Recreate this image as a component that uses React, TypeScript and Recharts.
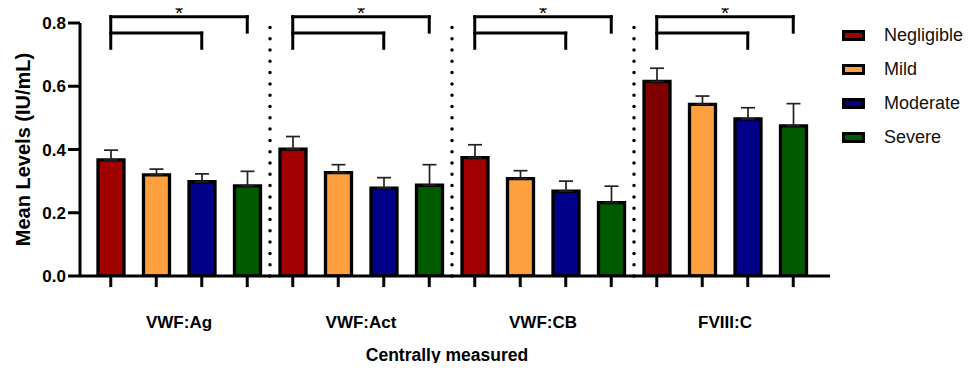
import React from 'react'
import { BarChart, Bar, XAxis, YAxis, ErrorBar, Cell, Legend, ReferenceLine, ReferenceDot } from 'recharts'

const assays = ['VWF:Ag', 'VWF:Act', 'VWF:CB', 'FVIII:C']
const severities = ['Negligible', 'Mild', 'Moderate', 'Severe']

// mean levels (IU/mL) per assay
const negligibleMean = [0.367, 0.401, 0.374, 0.615]
const mildMean = [0.32, 0.327, 0.308, 0.543]
const moderateMean = [0.298, 0.278, 0.268, 0.497]
const severeMean = [0.285, 0.287, 0.232, 0.475]

// upper error (SEM)
const negligibleErr = [0.031, 0.04, 0.041, 0.042]
const mildErr = [0.018, 0.025, 0.025, 0.026]
const moderateErr = [0.025, 0.033, 0.032, 0.035]
const severeErr = [0.046, 0.065, 0.052, 0.07]

const yTicks = [0, 0.2, 0.4, 0.6, 0.8]

// significance brackets: Negligible vs Moderate, Negligible vs Severe (each assay)
const sigPairs = [[0, 2], [0, 3]]
const sigLevels = [0.768, 0.82]
const sigDrop = 0.771
const sigFoot = 0.72
const sigLabel = '*'

const fills: Record<string, string> = {
  Negligible: '#a00000',
  Mild: '#ffa040',
  Moderate: '#000088',
  Severe: '#005a00',
}
const negligibleFills = ['#a00000', '#a00000', '#a00000', '#800000']

const font = "'Liberation Sans', Arial, sans-serif"

const means = [negligibleMean, mildMean, moderateMean, severeMean]
const errs = [negligibleErr, mildErr, moderateErr, severeErr]

const data = assays.map((name, i) => {
  const row: any = { name, span: [i * 4, i * 4 + 4] }
  severities.forEach((s, k) => {
    row[s] = means[k][i]
    row[s + 'Err'] = [0, errs[k][i]]
  })
  return row
})

// slot position on the hidden numeric axis (one unit per bar)
const slot = (g: number, b: number) => g * 4 + b + 0.5

const YTitle = (props: any) => {
  const vb = props.viewBox || { x: 0, y: 23, width: 80, height: 253 }
  const cx = vb.x + 23
  const cy = vb.y + vb.height / 2
  return (
    <text x={cx} y={cy} transform={`rotate(-90 ${cx} ${cy})`} textAnchor="middle" dominantBaseline="central"
      fontFamily={font} fontSize={20} fontWeight={700} fill="#000">
      Mean Levels (IU/mL)
    </text>
  )
}

const XTitle = (props: any) => {
  const vb = props.viewBox || { x: 80, y: 276, width: 750, height: 95 }
  return (
    <text x={447} y={vb.y + 79} textAnchor="middle" dominantBaseline="central"
      fontFamily={font} fontSize={17.5} fontWeight={700} fill="#000">
      Centrally measured
    </text>
  )
}

const LegendBox = (props: any) => {
  const payload = [...(props.payload || [])].sort(
    (a: any, b: any) => severities.indexOf(a.value) - severities.indexOf(b.value)
  )
  return (
    <div style={{ fontFamily: font, fontSize: 18, color: '#111', whiteSpace: 'nowrap' }}>
      {payload.map((p: any) => (
        <div key={p.value} style={{ display: 'flex', alignItems: 'center', height: 34 }}>
          <span style={{ display: 'inline-block', width: 17, height: 5, border: '3px solid #000', background: fills[p.value] || p.color, marginRight: 19 }} />
          <span>{p.value}</span>
        </div>
      ))}
    </div>
  )
}

const line = { stroke: '#000', strokeWidth: 3, ifOverflow: 'visible' as const, xAxisId: 'num' }

export default function App() {
  return (
    <div style={{ margin: -8, width: 971, height: 371 }}>
      <BarChart width={971} height={371} data={data} barGap={19.5}
        margin={{ top: 23, right: 141, left: 0, bottom: 0 }}>
        <XAxis dataKey="name" height={95} padding={{ left: 8, right: 14 }}
          axisLine={{ stroke: '#000', strokeWidth: 3 }} tickLine={false} tickMargin={34}
          tick={{ fill: '#000', fontSize: 17, fontWeight: 700, fontFamily: font }}
          label={XTitle} />
        <XAxis xAxisId="num" dataKey="span" type="number" domain={[0, 16]} allowDataOverflow hide
          padding={{ left: 8, right: 14 }} />
        <YAxis width={80} domain={[0, 0.8]} ticks={yTicks} allowDataOverflow
          tickFormatter={(v: number) => v.toFixed(1)}
          axisLine={{ stroke: '#000', strokeWidth: 3 }} tickLine={{ stroke: '#000', strokeWidth: 3 }} tickSize={12}
          tick={{ fill: '#000', fontSize: 17, fontWeight: 700, fontFamily: font }}
          label={YTitle} />
        <Legend layout="vertical" align="center" verticalAlign="middle" content={LegendBox}
          wrapperStyle={{ left: 842, top: 18, width: 'auto' }} />

        {[4, 8, 12].map((x) => (
          <ReferenceLine key={'sep' + x} xAxisId="num" x={x} stroke="#000" strokeWidth={3.5}
            strokeDasharray="0 11.3" strokeLinecap="round" />
        ))}

        {severities.map((s) => (
          <Bar key={s} dataKey={s} fill={fills[s]} barSize={26} stroke="#000" strokeWidth={3.3} isAnimationActive={false}>
            {s === 'Negligible' && data.map((d, i) => <Cell key={d.name} fill={negligibleFills[i]} />)}
            <ErrorBar dataKey={s + 'Err'} width={7} stroke="#222" strokeWidth={1.7} direction="y" isAnimationActive={false} />
          </Bar>
        ))}

        {assays.map((a, g) =>
          Array.from({ length: 4 }, (_, b) => (
            <ReferenceLine key={a + 'tick' + b} {...line}
              segment={[{ x: slot(g, b), y: 0 }, { x: slot(g, b), y: -0.035 }]} />
          ))
        )}

        {assays.map((a, g) => (
          <React.Fragment key={a + 'sig'}>
            <ReferenceLine {...line} strokeLinecap="square"
              segment={[{ x: slot(g, 0), y: sigFoot }, { x: slot(g, 0), y: sigLevels[1] }]} />
            {sigPairs.map(([p, q], j) => (
              <React.Fragment key={j}>
                <ReferenceLine {...line} strokeLinecap="square"
                  segment={[{ x: slot(g, p), y: sigLevels[j] }, { x: slot(g, q), y: sigLevels[j] }]} />
                <ReferenceLine {...line} strokeLinecap="square"
                  segment={[{ x: slot(g, q), y: sigLevels[j] }, { x: slot(g, q), y: j === 0 ? sigFoot : sigDrop }]} />
              </React.Fragment>
            ))}
            <ReferenceDot xAxisId="num" x={slot(g, 1.5)} y={sigLevels[1]} r={0} ifOverflow="visible"
              label={{ value: sigLabel, position: 'top', offset: -3, fontSize: 21, fill: '#000', fontFamily: font }} />
          </React.Fragment>
        ))}
      </BarChart>
    </div>
  )
}
